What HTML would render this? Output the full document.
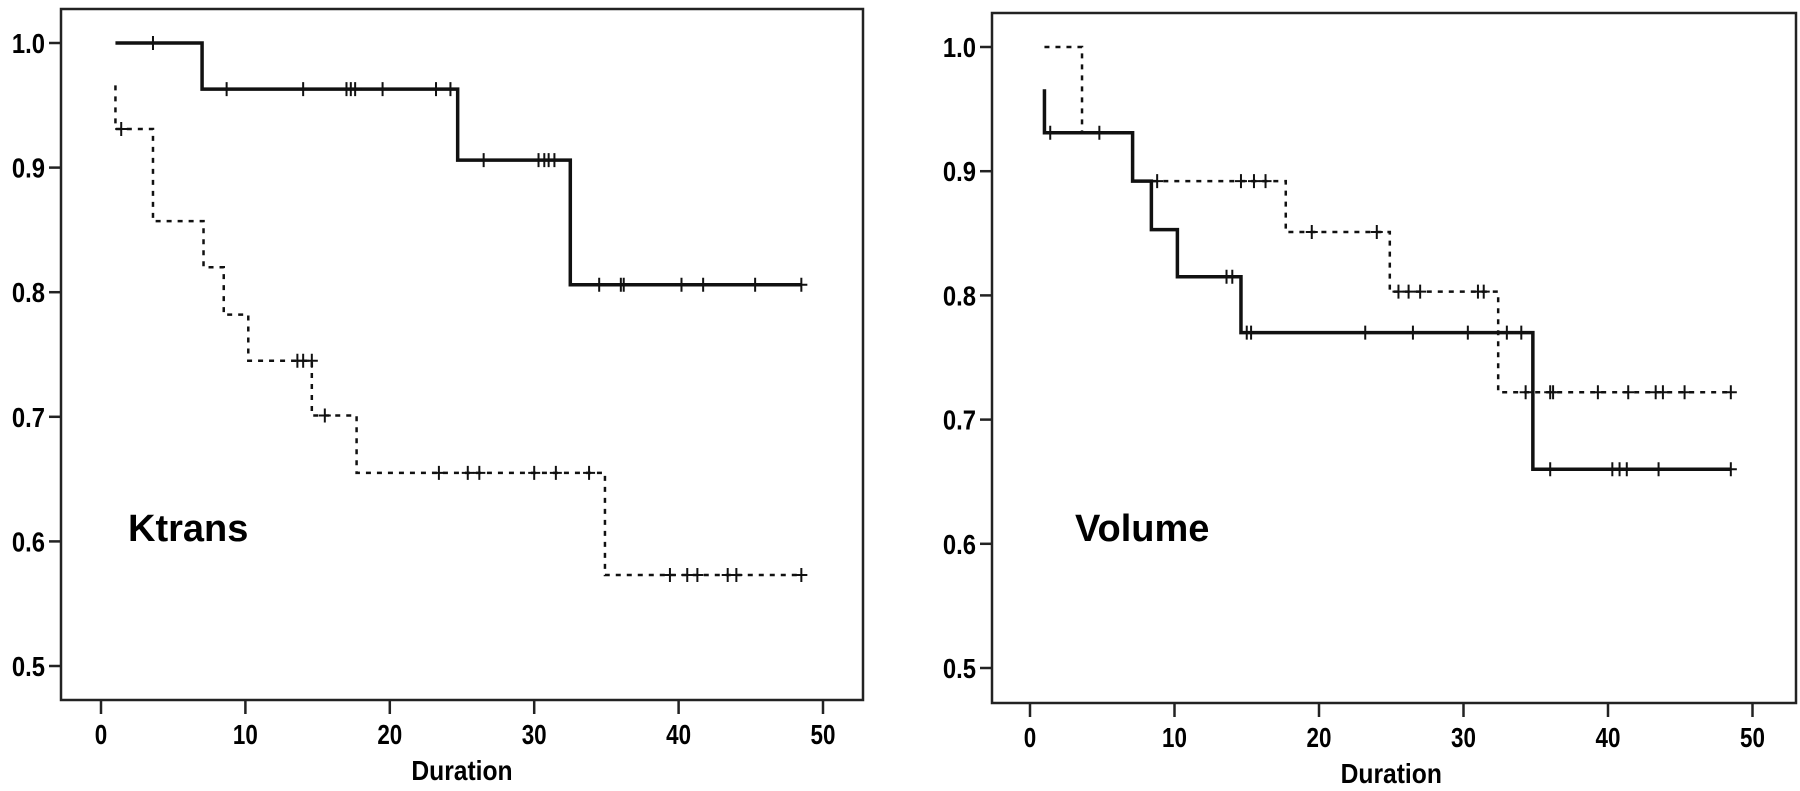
<!DOCTYPE html>
<html><head><meta charset="utf-8"><style>
body{margin:0;background:#fff;width:1800px;height:791px;overflow:hidden}
svg{display:block}
</style></head><body>
<svg id="s" width="1800" height="791" xmlns="http://www.w3.org/2000/svg" font-family="Liberation Sans, sans-serif" font-weight="bold"></svg>
<script>
const s=document.getElementById('s');let h='';
function panel(P){
 const X=t=>P.x0+t*P.xs, Y=v=>P.y1+(1-v)*P.ys*100;
 h+=`<rect x="${P.L}" y="${P.T}" width="${P.R-P.L}" height="${P.B-P.T}" fill="none" stroke="#222" stroke-width="2.5"/>`;
 for(let i=0;i<=5;i++){const v=1-i*0.1,y=Y(v);
  h+=`<line x1="${P.L-12}" x2="${P.L}" y1="${y}" y2="${y}" stroke="#222" stroke-width="2.5"/>`;
  h+=`<text x="${P.L-16}" y="${y+10}" font-size="28" text-anchor="end" transform="translate(${P.L-16},0) scale(0.85,1) translate(${-(P.L-16)},0)">${v.toFixed(1)}</text>`;}
 for(let i=0;i<=5;i++){const x=X(i*10);
  h+=`<line x1="${x}" x2="${x}" y1="${P.B}" y2="${P.B+14}" stroke="#222" stroke-width="2.5"/>`;
  h+=`<text x="${x}" y="${P.B+44}" font-size="28" text-anchor="middle" transform="translate(${x},0) scale(0.8,1) translate(${-x},0)">${i*10}</text>`;}
 const dx=X(25);
 h+=`<text x="${dx}" y="${P.B+80}" font-size="28" text-anchor="middle" transform="translate(${dx},0) scale(0.88,1) translate(${-dx},0)">Duration</text>`;
 h+=`<text x="${P.lx}" y="541" font-size="38">${P.label}</text>`;
 for(const S of P.series){
  let d=`M${X(S.start[0])},${Y(S.start[1])}`;let v=S.start[1];
  if(S.start[2]!==undefined){v=S.start[2];d+=` V${Y(v)}`;}
  for(const [t,nv] of S.steps){d+=` H${X(t)} V${Y(nv)}`;v=nv;}
  d+=` H${X(S.end)}`;
  const dash=S.dash?'stroke-dasharray="5,6"':'';
  h+=`<path d="${d}" fill="none" stroke="#111" stroke-width="${S.dash?2.5:3.5}" ${dash}/>`;
  for(const [t,cv] of S.cens){const x=X(t),y=Y(cv);
   h+=`<path d="M${x},${y-7}V${y+7}M${x-6},${y}H${x+6}" stroke="#111" stroke-width="2"/>`;}
 }
}
panel({L:61,R:863,T:9,B:700,x0:101,xs:14.44,y1:43,ys:12.46,lx:128,label:'Ktrans',series:[
 {start:[1,1],steps:[[7,0.963],[24.7,0.906],[32.5,0.806]],end:48.5,
  cens:[[3.6,1],[8.7,.963],[14,.963],[17,.963],[17.3,.963],[17.6,.963],[19.5,.963],[23.2,.963],[24.2,.963],[26.5,.906],[30.3,.906],[30.7,.906],[31,.906],[31.4,.906],[34.5,.806],[36,.806],[36.2,.806],[40.2,.806],[41.7,.806],[45.3,.806],[48.5,.806]]},
 {dash:1,start:[1,0.966,0.931],steps:[[3.6,.857],[7.1,.82],[8.5,.782],[10.2,.745],[14.6,.701],[17.7,.655],[34.9,.573]],end:48.5,
  cens:[[1.4,.931],[13.6,.745],[14,.745],[14.6,.745],[15.5,.701],[23.4,.655],[25.4,.655],[26.2,.655],[30,.655],[31.5,.655],[33.8,.655],[39.4,.573],[40.6,.573],[41.3,.573],[43.4,.573],[44,.573],[48.5,.573]]}
]});
panel({L:992,R:1796,T:13,B:703,x0:1030,xs:14.45,y1:47,ys:12.42,lx:1075,label:'Volume',series:[
 {start:[1,0.966,0.931],steps:[[7.1,.892],[8.4,.853],[10.2,.815],[14.6,.77],[34.8,.66]],end:48.5,
  cens:[[1.4,.931],[13.6,.815],[14,.815],[15,.77],[15.3,.77],[23.2,.77],[26.5,.77],[30.3,.77],[33,.77],[34,.77],[36,.66],[40.3,.66],[40.8,.66],[41.3,.66],[43.5,.66],[48.5,.66]]},
 {dash:1,start:[1,1],steps:[[3.6,.931],[7.1,.892],[17.7,.851],[24.9,.803],[32.4,.722]],end:48.5,
  cens:[[4.8,.931],[8.8,.892],[14.6,.892],[15.5,.892],[16.3,.892],[19.5,.851],[24,.851],[25.5,.803],[26.2,.803],[27,.803],[31,.803],[31.4,.803],[34.3,.722],[36,.722],[36.2,.722],[39.3,.722],[41.4,.722],[43.3,.722],[43.8,.722],[45.3,.722],[48.5,.722]]}
]});
s.innerHTML=h;
</script>
</body></html>
